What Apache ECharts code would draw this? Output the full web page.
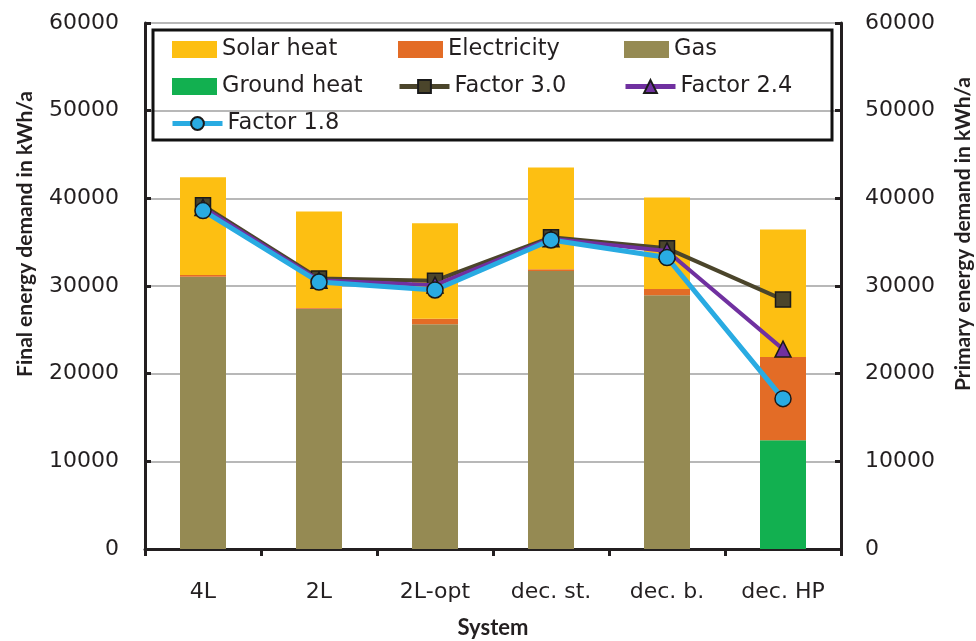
<!DOCTYPE html>
<html>
<head>
<meta charset="utf-8">
<script src="https://cdn.jsdelivr.net/npm/echarts@6/dist/echarts.min.js"></script>
<style>html,body{margin:0;padding:0;background:#fff}#c{width:976px;height:641px}</style>
</head>
<body>
<div id="c"></div>
<script>
const categories = ['4L', '2L', '2L-opt', 'dec. st.', 'dec. b.', 'dec. HP'];
const yTicks = [0, 10000, 20000, 30000, 40000, 50000, 60000];
const groundHeat = [0, 0, 0, 0, 0, 12400];
const gas = [31050, 27400, 25650, 31700, 28950, 0];
const electricity = [200, 100, 620, 200, 720, 9500];
const solarHeat = [11150, 11000, 10900, 11620, 10430, 14550];
const factor30 = [39200, 30850, 30600, 35550, 34300, 28450];
const factor24 = [38950, 30650, 30100, 35400, 34000, 22800];
const factor18 = [38600, 30450, 29550, 35250, 33250, 17150];
const leftTitle = 'Final energy demand in kWh/a';
const rightTitle = 'Primary energy demand in kWh/a';

const FONT = 'DejaVu Sans';
const TFONT = 'Lato';
const TXT = '#231f20';
const chart = echarts.init(document.getElementById('c'), null, {renderer: 'canvas'});

function yAxis(pos) {
  return {
    type: 'value', position: pos, min: yTicks[0], max: yTicks[yTicks.length - 1], interval: yTicks[1] - yTicks[0],
    axisLine: {show: true, lineStyle: {color: TXT, width: 3}},
    axisTick: {show: true, inside: true, length: 6, lineStyle: {color: TXT, width: 3}},
    axisLabel: {fontFamily: FONT, fontSize: 22, color: TXT, margin: pos === 'left' ? 26 : 24,
      formatter: v => String(v)},
    splitLine: {show: pos === 'left', lineStyle: {color: '#a0a0a0', width: 1.5}}
  };
}

function legendItem(name, left, top, icon, w, h) {
  const l = {data: [name], left: left, top: top, padding: 0, itemWidth: w, itemHeight: h, itemGap: 0,
    textStyle: {fontFamily: FONT, fontSize: 22.5, color: TXT, padding: [0, 0, 0, 0]}, selectedMode: false};
  if (icon) l.icon = icon;
  else l.lineStyle = {width: 5};
  return l;
}

function vTitle(text, x, y) {
  return {type: 'text', x: x, y: y, rotation: Math.PI / 2, silent: true,
    style: {text: text, fontFamily: TFONT, fontWeight: 'bold', fontSize: 21, fill: TXT,
      align: 'center', verticalAlign: 'middle'}};
}

const option = {
  animation: false,
  backgroundColor: '#fff',
  grid: {left: 145, right: 135, top: 23, bottom: 92, containLabel: false, outerBoundsMode: 'none'},
  xAxis: {
    type: 'category', data: categories,
    name: 'System', nameLocation: 'middle', nameGap: 68,
    nameTextStyle: {fontFamily: TFONT, fontWeight: 'bold', fontSize: 22, color: TXT},
    axisLine: {lineStyle: {color: TXT, width: 3}},
    axisTick: {show: true, length: 7, interval: 0, lineStyle: {color: TXT, width: 3}},
    axisLabel: {fontFamily: FONT, fontSize: 22, color: TXT, margin: 32}
  },
  yAxis: [yAxis('left'), yAxis('right')],
  legend: [
    legendItem('Solar heat', 172, 38, 'rect', 45, 17),
    legendItem('Electricity', 398, 38, 'rect', 45, 17),
    legendItem('Gas', 624, 38, 'rect', 45, 17),
    legendItem('Ground heat', 172, 75, 'rect', 45, 17),
    legendItem('Factor 3.0', 397, 75, null, 50, 16),
    legendItem('Factor 2.4', 623, 75, null, 50, 16),
    legendItem('Factor 1.8', 170, 112, null, 50, 16)
  ],
  graphic: [
    {type: 'rect', z: 100, silent: true,
      shape: {x: 153, y: 30, width: 679, height: 110},
      style: {fill: 'rgba(0,0,0,0)', stroke: '#111', lineWidth: 3}},
    vTitle(leftTitle, 25, 234),
    vTitle(rightTitle, 963, 234)
  ],
  series: [
    {name: 'Ground heat', type: 'bar', stack: 'fe', barWidth: 46, data: groundHeat, itemStyle: {color: '#12b050'}},
    {name: 'Gas', type: 'bar', stack: 'fe', barWidth: 46, data: gas, itemStyle: {color: '#958a53'}},
    {name: 'Electricity', type: 'bar', stack: 'fe', barWidth: 46, data: electricity, itemStyle: {color: '#e36c26'}},
    {name: 'Solar heat', type: 'bar', stack: 'fe', barWidth: 46, data: solarHeat, itemStyle: {color: '#fdbf12'}},
    {name: 'Factor 3.0', type: 'line', yAxisIndex: 1, data: factor30, symbol: 'rect', symbolSize: 15,
      lineStyle: {color: '#4b452b', width: 4}, itemStyle: {color: '#4b452b', borderColor: '#1a1a1a', borderWidth: 1.5}, z: 3},
    {name: 'Factor 2.4', type: 'line', yAxisIndex: 1, data: factor24, symbol: 'triangle', symbolSize: 16,
      lineStyle: {color: '#7030a0', width: 4}, itemStyle: {color: '#7030a0', borderColor: '#1a1a1a', borderWidth: 1.5}, z: 4},
    {name: 'Factor 1.8', type: 'line', yAxisIndex: 1, data: factor18, symbol: 'circle', symbolSize: 16,
      lineStyle: {color: '#29abe2', width: 5}, itemStyle: {color: '#29abe2', borderColor: '#1a1a1a', borderWidth: 1.5}, z: 5}
  ]
};
chart.setOption(option);
</script>
</body>
</html>
